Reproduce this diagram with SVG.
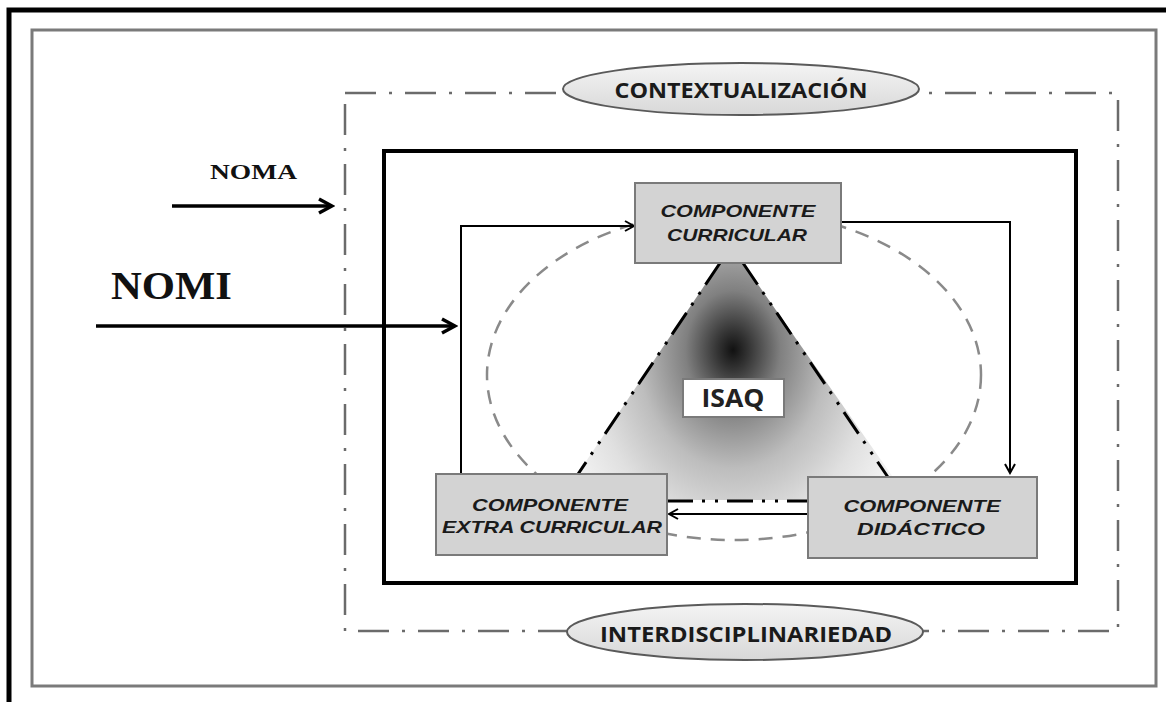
<svg xmlns="http://www.w3.org/2000/svg" width="1166" height="702" viewBox="0 0 1166 702">
  <style>
    .comp { fill: #d3d3d3; stroke: #7a7a7a; stroke-width: 2; }
    .comp-text { font-family: "Comic Sans MS", "Liberation Sans", sans-serif; font-weight: bold; font-style: italic; font-size: 17px; fill: #1a1a1a; text-anchor: middle; }
    .oval { fill: url(#ovalFill); stroke: #5a5a5a; stroke-width: 2; }
    .oval-text { font-family: "Open Sans", "Liberation Sans", sans-serif; font-weight: bold; font-size: 21px; fill: #1a1a1a; text-anchor: middle; }
    .input-text { font-family: "Liberation Serif", serif; font-weight: bold; fill: #111; }
    .arrow { fill: none; stroke: #000; stroke-width: 2; marker-end: url(#chevron); }
    .arrow-bold { fill: none; stroke: #000; stroke-width: 3.5; marker-end: url(#chevronBold); }
    .tri-edge { fill: none; stroke: #000; stroke-width: 3; stroke-dasharray: 26 9 3 10 3 9; }
  </style>
  <defs>
    <marker id="chevron" viewBox="0 0 12 12" refX="10" refY="6" markerWidth="12" markerHeight="12" markerUnits="userSpaceOnUse" orient="auto">
      <path d="M1,1 L10,6 L1,11" fill="none" stroke="#000" stroke-width="2"/>
    </marker>
    <marker id="chevronBold" viewBox="0 0 18 18" refX="15" refY="9" markerWidth="18" markerHeight="18" markerUnits="userSpaceOnUse" orient="auto">
      <path d="M2,2 L15,9 L2,16" fill="none" stroke="#000" stroke-width="3.5"/>
    </marker>
    <linearGradient id="ovalFill" x1="0" y1="0" x2="0" y2="1">
      <stop offset="0" stop-color="#f4f4f4"/>
      <stop offset="1" stop-color="#d8d8d8"/>
    </linearGradient>
    <!-- core shading of the triangle, stretched vertically -->
    <radialGradient id="coreShade" gradientUnits="userSpaceOnUse" cx="733" cy="350" r="190" gradientTransform="translate(733 350) scale(1 1.25) translate(-733 -350)">
      <stop offset="0" stop-color="#111"/>
      <stop offset="0.08" stop-color="#333"/>
      <stop offset="0.25" stop-color="#808080"/>
      <stop offset="0.5" stop-color="#bdbdbd"/>
      <stop offset="0.75" stop-color="#e0e0e0"/>
      <stop offset="1" stop-color="#f6f6f6"/>
    </radialGradient>
  </defs>

  <!-- page frames -->
  <rect x="9" y="10" width="1170" height="700" fill="none" stroke="#000" stroke-width="5"/>
  <rect x="32" y="30" width="1124" height="656" fill="none" stroke="#7a7a7a" stroke-width="3"/>

  <!-- context boundary (dash-dot) -->
  <rect x="345" y="93" width="773" height="538" fill="none" stroke="#6b6b6b" stroke-width="2.5" stroke-dasharray="31 13 3 13"/>

  <!-- system boundary -->
  <rect x="384" y="151" width="692" height="432" fill="none" stroke="#000" stroke-width="4"/>

  <!-- cycle ellipse -->
  <ellipse cx="734" cy="375" rx="247" ry="165" fill="none" stroke="#8a8a8a" stroke-width="2.5" stroke-dasharray="14 10"/>

  <!-- central triangle -->
  <g id="triangle">
    <polygon points="731,246 560,500 909,500" fill="url(#coreShade)"/>
    <line x1="720" y1="263" x2="566" y2="492" class="tri-edge"/>
    <line x1="743" y1="263" x2="898" y2="492" class="tri-edge"/>
    <line x1="667" y1="501" x2="808" y2="501" class="tri-edge"/>
  </g>

  <g id="connectors">
    <path class="arrow" d="M841,222 H1010 V473"/>
    <path class="arrow" d="M808,514 H669"/>
    <path class="arrow" d="M461,474 V226 H634"/>
    <path class="arrow-bold" d="M172,206 H332"/>
    <path class="arrow-bold" d="M96,326 H455"/>
  </g>

  <g id="noma">
    <text class="input-text" x="210" y="179" font-size="21" textLength="87" lengthAdjust="spacingAndGlyphs">NOMA</text>
  </g>
  <g id="nomi">
    <text class="input-text" x="111" y="299" font-size="39" textLength="121" lengthAdjust="spacingAndGlyphs">NOMI</text>
  </g>

  <g id="contextualizacion">
    <ellipse class="oval" cx="741" cy="89" rx="178" ry="26"/>
    <text class="oval-text" x="741" y="98" textLength="253" lengthAdjust="spacingAndGlyphs">CONTEXTUALIZACIÓN</text>
  </g>
  <g id="interdisciplinariedad">
    <ellipse class="oval" cx="745" cy="632" rx="178" ry="28"/>
    <text class="oval-text" x="746" y="642" font-size="22" textLength="292" lengthAdjust="spacingAndGlyphs">INTERDISCIPLINARIEDAD</text>
  </g>

  <g id="componente-curricular">
    <rect class="comp" x="635" y="183" width="206" height="80"/>
    <text class="comp-text" x="738" y="217" textLength="155" lengthAdjust="spacingAndGlyphs">COMPONENTE</text>
    <text class="comp-text" x="737" y="241" textLength="140" lengthAdjust="spacingAndGlyphs">CURRICULAR</text>
  </g>
  <g id="componente-extra-curricular">
    <rect class="comp" x="436" y="474" width="231" height="81"/>
    <text class="comp-text" x="550" y="511" textLength="156" lengthAdjust="spacingAndGlyphs">COMPONENTE</text>
    <text class="comp-text" x="552" y="533" textLength="220" lengthAdjust="spacingAndGlyphs">EXTRA CURRICULAR</text>
  </g>
  <g id="componente-didactico">
    <rect class="comp" x="808" y="477" width="229" height="81"/>
    <text class="comp-text" x="922" y="512" textLength="157" lengthAdjust="spacingAndGlyphs">COMPONENTE</text>
    <text class="comp-text" x="921" y="535" textLength="128" lengthAdjust="spacingAndGlyphs">DIDÁCTICO</text>
  </g>

  <g id="isaq">
    <rect x="683" y="379" width="101" height="38" fill="#fff" stroke="#7a7a7a" stroke-width="2"/>
    <text x="733" y="407" font-family="Open Sans, Liberation Sans, sans-serif" font-weight="bold" font-size="25" fill="#222" text-anchor="middle" textLength="63" lengthAdjust="spacingAndGlyphs">ISAQ</text>
  </g>
</svg>
